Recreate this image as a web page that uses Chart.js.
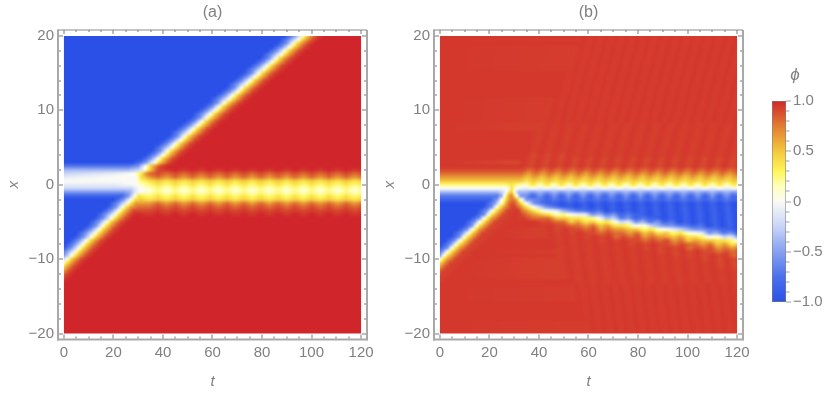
<!DOCTYPE html>
<html><head><meta charset="utf-8">
<style>html,body{margin:0;padding:0;background:#fff;width:830px;height:394px;overflow:hidden}canvas{position:absolute;top:0}</style>
<script src="https://cdn.jsdelivr.net/npm/chart.js@4"></script>
</head><body>
<canvas id="ca" width="375" height="394" style="left:0"></canvas>
<canvas id="cb" width="375" height="394" style="left:376px"></canvas>
<canvas id="cc" width="70" height="394" style="left:760px"></canvas>
<script>
const tTicks=[0,20,40,60,80,100,120];
const xTicks=[-20,-10,0,10,20];
const barTicks=[-1,-0.5,0,0.5,1];
// phi values by letter
const levels={a:-1,b:-.85,c:-.7,d:-.55,e:-.4,f:-.25,g:-.1,h:0,i:.12,j:.25,k:.38,l:.5,m:.65,n:.8,o:.9,r:.925,s:.935,p:.95,q:1};
const colorStops=[[-1,43,80,232],[-.75,75,112,236],[-.5,135,160,240],[-.25,200,212,248],[0,250,250,245],[.15,255,255,190],[.3,255,245,90],[.5,243,200,62],[.75,226,125,50],[1,208,38,43]];
const beadA=[34.5,41.5,48.5,55.5,62.5,69.3,76,83,90,96.7,103.5,110.5,117.5,124.5];
const rippleB=[11.4,17.2,23,28.8,34.6,40.4,46.2,52,57.8,63.6,69.4,75.2,81,86.8,92.6,98.4,104.2,110,115.8,121.6,127.4,133.2,139,144.8];
const farB=[36,40.5,44.8,49,53.3,57.6,62,66.4,70.8,75.2,79.6,84,88.4,92.8,97.2,101.6,106,110.4,114.8,119.2,123.6,128,132.4,136.8,141.2,145.6];
// each row: x = 20, 19.5 ... -20 ; knots "letter t" | ripple shift | zones "from crest+trough"
const rowsA=[
"a89 d93 h96 k97.5 m99.5 o102 q105","a87 d91 h94.5 k96 m98 o100.5 q103.5","a86 d90 h92.5 k94 m96 o98.5 q101.5","a84 d88 h91 k92.5 m94.5 o97 q100","a82 d86 h89 k90.5 m92.5 o95 q98",
"a80 d84 h87.5 k89 m91 o93.5 q96.5","a79 d83 h85.5 k87 m89 o91.5 q94.5","a77 d81 h84 k85.5 m87.5 o90 q93","a75 d79 h82 k83.5 m85.5 o88 q91","a73 d77 h80.5 k82 m84 o86.5 q89.5",
"a72 d76 h78.5 k80 m82 o84.5 q87.5","a70 d74 h77 k78.5 m80.5 o83 q86","a68 d72 h75 k76.5 m78.5 o81 q84","a66 d70 h73.5 k75 m77 o79.5 q82.5","a65 d69 h71.5 k73 m75 o77.5 q80.5",
"a63 d67 h70 k71.5 m73.5 o76 q79","a61 d65 h68 k69.5 m71.5 o74 q77","a59 d63 h66.5 k68 m70 o72.5 q75.5","a58 d62 h64.5 k66 m68 o70.5 q73.5","a56 d60 h62.5 k64 m66 o68.5 q71.5",
"a54 d58 h61 k62.5 m64.5 o67 q70","a52 d56 h59 k60.5 m62.5 o65 q68","a51 d55 h57.5 k59 m61 o63.5 q66.5","a49 d53 h55.5 k57 m59 o61.5 q64.5","a47 d51 h54 k55.5 m57.5 o60 q63",
"a45 d49 h52 k53.5 m55.5 o58 q61","a43 d47 h50.5 k52 m54 o56.5 q59.5","a42 d46 h48.5 k50 m52 o54.5 q57.5","a40 d44 h47 k48.5 m50.5 o53 q56","a38 d42 h45 k46.5 m48.5 o51 q54",
"a36 d40 h43.5 k45 m47 o49.5 q52.5","a35 d39 h41.5 k43 m45 o47.5 q50.5","a33 d37 h40 k41.5 m43.5 o46 q49","a31 d35 h38 k39.5 m41.5 o44 q47",
"a0 a28 d33 h36.5 k38 m40 o42.5 q45.5","c0 c26 d30 h33 k34.5 m36.5 o39 q42",
"e0 e26 f30 h32.5 k34 m36 o38|0|40 pq","f0 g20 h28 k31.5 m33|0|33 no","g0 h20 h29 k31|0|33 mn","h0 h29 j31|0|33 kl","g0 g20 h29 i31|0|33 jk",
"f0 f27 h30.5|0|32 ij","d0 d24 e27 g29 h30.5|0|32 ij","b0 b23 d26 h28.5 k30|0|32 jk","a20 d24 h27 k28.5 l31|0|33 kl","a18 d22 h25.5 k27 m29|0|33 mn",
"a17 d21 h23.5 k25 m27 n30|0|33 no","a15 d19 h22 k23.5 m25.5 o28|0|33 op","a13 d17 h20.5 k22 m24 o26.5 q29.5|0|33 pq",
"a12 d16 h19 k20.5 m22.5 o25 q28","a10 d14 h17 k18.5 m20.5 o23 q26","a9 d13 h15.5 k17 m19 o21.5 q24.5","a7 d11 h14 k15.5 m17.5 o20 q23","a5 d9 h12.5 k14 m16 o18.5 q21.5",
"a4 d8 h11 k12.5 m14.5 o17 q20","a2 d6 h9 k10.5 m12.5 o15 q18","a.5 d4.5 h7.5 k9 m11 o13.5 q16.5","a-1 d3 h6 k7.5 m9.5 o12 q15","a-3 d1 h4.5 k6 m8 o10.5 q13.5",
"a-4 d0 h3 k4.5 m6.5 o9 q12","a-6 d-2 h1 k2.5 m4.5 o7 q10","a-7 d-3 h-.5 k1 m3 o5.5 q8.5","a-9 d-5 h-2 k-.5 m1.5 o4 q7","h-4 k-2 m0 o2.5 q5.5",
"k-4 m-1.5 o1 q4","m-3 o-.5 q2.5","m-5 o-2 q1","o-4 q-1",
"q0","q0","q0","q0","q0","q0","q0","q0","q0","q0","q0","q0","q0"];
const rowsB=[
"p0|16|57 sp","p0|15.6|56 sp","p0|15.2|56 sp","p0|14.8|55 sp","p0|14.4|54 sp","p0|14|53.5 sp","p0|13.6|53 sp","p0|13.2|52 sp","p0|12.8|51.5 sp","p0|12.4|51 sp",
"p0|12|50 sp","p0|11.6|49.5 sp","p0|11.2|48.5 sp","p0|10.8|48 sp","p0|10.4|47 sp","p0|10|46.5 sp","p0|9.6|46 sp","p0|9.2|45 sp","p0|8.8|44.5 sp","p0|8.4|43.5 sp",
"p0|8|43 sp","p0|7.6|42 sp","p0|7.2|41 sp","p0|6.8|40 sp","p0|6.4|39 rp","p0|6|38 rp","p0|5.6|37 rp","p0|5.2|36 rp","p0|4.8|35 rp","p0|4.4|35 rp",
"p0|4|34 rp","p0|3.6|33 rp","p0|3.2|32.5 op 50 rp","p0|2.8|32 op","p0|2.4|31 op",
"p0|2|31 op","o0 o27 o31|1.6|32 no","n0 n27 n31|1.2|32 mn","m0 m27 m31|.8|32 lm","l0 l27 l31|.4|32 kl",
"j0 j26 k29 j31|0|33 ik",
"h0 h27 i28 k28.7 k29.3 i30.2 h31|0|33 gh",
"e0 e23 f25 h27 k27.8 l28.7 k29.6 h30.3 e31.5|0|33 ed",
"c0 c23 e25 h26 k27 n28.7 k30.2 h31 d32.5|0|34 db",
"b0 b20 d23 h25 k26.5 m27.7 n29.5 m30.7 k31.7 h33 d35|0|38 cb",
"a18 d22 h24.3 k25.8 m27 n28 o29.5 n30.6 m31.7 k33 h35 d38|.2|39 cb 45 ba",
"a17 d21 h22.7 k24.2 m26 o28.5 r30 n31.7 m33 k35 h38 d43|.4|44 cb 52 ba",
"a15 d19 h21 k22.6 m24.5 o27 r29 p31 r32 n33 m35 k38 h43|.6|44 gf 48 fe 52 dc 58 cb 66 ba",
"a14 d18 h19.5 k21 m23 o25.5 r27.5 p30 r32.5 n35 m38|.8|40 lm 43 jk 47 ij 52 hg 57 gf 61 ed 66 dc 72 cb 80 ba",
"a12 d16 h17.8 k19.3 m21 o24 r26 p30 r34 n38|.9|39 no 42 mn 46 lm 50 kl 55 jk 59 ij 63 hg 67 fe 72 dc 78 cb 86 ba",
"a10 d14 h16 k17.7 m19.5 o22 r24 p28|1|36 rp 39 op 43 no 48 mn 53 lm 58 kl 63 jk 68 ih 72 gf 77 ed 83 dc 88 cb 96 ba",
"a9 d13 h14.5 k16 m18 o20.5 r22.5 p27|1.2|38 rp 42 op 48 no 54 mn 62 lm 68 kl 72 jk 78 ih 83 gf 88 ed 93 dc 98 cb 107 ba",
"a7 d11 h13 k14.4 m16 o19 r21 p25|1.4|41 rp 46 op 56 no 64 mn 71 lm 77 kl 82 jk 88 ih 93 gf 98 ed 103 dc 109 cb 116 ba",
"a5 d9 h11.3 k12.8 m14.5 o17 r19 p23|1.6|41 rp 50 op 62 no 72 mn 80 lm 88 kl 93 jk 98 ih 103 gf 108 ed 114 dc 120 cb",
"a4 d8 h9.6 k11.1 m13 o15.5 r17.5 p22|1.8|42 rp 56 op 70 no 82 mn 90 lm 98 kl 103 jk 108 ih 114 gf 120 ed",
"a2 d6 h8 k9.5 m11.5 o14 r16 p20|2|43 rp 64 op 80 no 92 mn 100 lm 108 kl 113 jk 118 ih",
"a.5 d4.5 h6.3 k7.8 m10 o12.5 r14.5 p19|2.2|44 rp 72 op 90 no 102 mn 110 lm 118 kl",
"a-1 d3 h4.7 k6.2 m8 o11 r13 p17|2.4|45 rp 80 op 98 no 112 mn",
"a-3 d1 h3 k4.6 m6.5 o9 r11 p15|2.6|46 rp 88 op 108 no",
"a-4 d0 h1.4 k2.9 m5 o7.5 r9.5 p14|2.8|46 rp 95 op 118 no",
"a-6 d-2 h-.2 k1.3 m3 o6 r8 p12|3|47 rp 102 op",
"a-8 d-4 h-1.8 k-.3 m1.5 o4 r6 p10|3.2|47 rp 108 op",
"h-3.5 k-2 m0 o2.5 r4.5 p8|3.4|48 rp 112 op",
"k-3.5 m-1.5 o1 r3 p7|3.6|49 rp","m-3 o-.5 r1.5 p5|3.8|49 rp","o-2 r0 p4|4|50 rp","r-1.5 p2|4.2|51 rp",
"p0|4.4|51 sp","p0|4.6|52 sp","p0|4.8|53 sp","p0|5|53 sp","p0|5.2|54 sp","p0|5.4|55 sp","p0|5.6|55 sp","p0|5.8|56 sp","p0|6|57 sp","p0|6.2|57 sp","p0|6.4|58 sp","p0|6.6|59 sp","p0|6.8|59 sp","p0|7|60 sp"];

function phiColor(v){
  for(let i=1;i<colorStops.length;i++){
    const a=colorStops[i-1],b=colorStops[i];
    if(v<=b[0]){const f=Math.max(0,(v-a[0])/(b[0]-a[0]));
      return [a[1]+f*(b[1]-a[1]),a[2]+f*(b[2]-a[2]),a[3]+f*(b[3]-a[3])];}
  }
  return colorStops[colorStops.length-1].slice(1);
}
function rowKnots(row,crestsIn){
  const [k,s,z]=row.split('|');const out=[];
  const crests=(z&&z.endsWith(' sp'))?farB:crestsIn;
  for(const m of k.matchAll(/([a-z])(-?[\d.]+)/g))out.push([+m[2],levels[m[1]]]);
  if(z){
    const shift=+s,p=z.trim().split(' ');const zones=[];
    for(let i=0;i<p.length;i+=2)zones.push([+p[i],p[i+1]]);
    const find=t=>{let r=null;for(const q of zones)if(t>=q[0])r=q[1];return r;};
    for(let i=0;i<crests.length-1;i++){
      const tc=crests[i]+shift,tm=(crests[i]+crests[i+1])/2+shift;
      const a=find(tc),b=find(tm);
      if(a)out.push([tc,levels[a[0]]]);
      if(b)out.push([tm,levels[b[1]]]);
    }
  }
  return out.sort((a,b)=>a[0]-b[0]);
}
function phiAt(kn,t){
  if(t<=kn[0][0])return kn[0][1];
  for(let i=1;i<kn.length;i++)if(t<=kn[i][0]){
    const f=(t-kn[i-1][0])/(kn[i][0]-kn[i-1][0]||1);return kn[i-1][1]+f*(kn[i][1]-kn[i-1][1]);}
  return kn[kn.length-1][1];
}
function cells(rows,crests){
  const out=[];
  rows.forEach((r,j)=>{const kn=rowKnots(r,crests);
    for(let t=0;t<=120;t++)out.push({x:t,y:20-j*.5,v:phiAt(kn,t)});});
  return out;
}
const GRAY='#808080';
const fontT={family:'"Liberation Sans",Arial,sans-serif',size:15};
const noPad=s=>{s.paddingLeft=0;s.paddingRight=0;s.paddingTop=0;s.paddingBottom=0;};
const heat={id:'heat',beforeDatasetsDraw(c){
  const d=c.data.datasets[0].data,sx=c.scales.x,sy=c.scales.y,ctx=c.ctx;
  const w=121,h=81,off=document.createElement('canvas');off.width=w;off.height=h;
  const o=off.getContext('2d'),im=o.createImageData(w,h);
  d.forEach(p=>{const i=p.x,j=Math.round((20-p.y)*2),q=(j*w+i)*4,col=phiColor(p.v);
    im.data[q]=col[0];im.data[q+1]=col[1];im.data[q+2]=col[2];im.data[q+3]=255;});
  o.putImageData(im,0,0);
  const x0=sx.getPixelForValue(0),x1=sx.getPixelForValue(120),y0=sy.getPixelForValue(20),y1=sy.getPixelForValue(-20);
  ctx.save();ctx.beginPath();ctx.rect(x0,y0,x1-x0,y1-y0);ctx.clip();
  ctx.imageSmoothingEnabled=true;ctx.imageSmoothingQuality='high';
  const ax=sx.getPixelForValue(-.5),bx=sx.getPixelForValue(120.5),ay=sy.getPixelForValue(20.25),by=sy.getPixelForValue(-20.25);
  ctx.drawImage(off,ax,ay,bx-ax,by-ay);
  ctx.restore();
}};
const frame={id:'frame',afterDraw(c){
  const a=c.chartArea,ctx=c.ctx,sx=c.scales.x,sy=c.scales.y;
  ctx.save();
  ctx.fillStyle='#a8a8a8';
  ctx.fillRect(a.left-1,a.top,2,a.bottom-a.top+1);
  ctx.fillRect(a.right-1,a.top,2,a.bottom-a.top+1);
  ctx.fillRect(a.left-1,a.bottom-1,a.right-a.left+1,2);
  ctx.fillStyle='#8c8c8c';ctx.fillRect(a.left-1,a.top-.5,a.right-a.left+1,1);
  ctx.fillStyle='#7a7a7a';
  for(let t=0;t<=120;t+=5){const p=Math.round(sx.getPixelForValue(t)),l=t%20===0?4:2;
    ctx.fillRect(p-.5,a.top,1,l);ctx.fillRect(p-.5,a.bottom-l-1,1,l);}
  for(let x=-20;x<=20;x+=2){const p=Math.round(sy.getPixelForValue(x)),l=x%10===0?4:2;
    ctx.fillRect(a.left+1,p-.5,l,1);ctx.fillRect(a.right-l-1,p-.5,l,1);}
  ctx.restore();
}};
function panel(id,title,rows,crests){
  new Chart(document.getElementById(id),{type:'scatter',plugins:[heat,frame],
    data:{datasets:[{data:cells(rows,crests),pointRadius:0,showLine:false}]},
    options:{responsive:false,animation:false,events:[],
      layout:{autoPadding:false,padding:{left:0,right:8,top:0,bottom:0}},
      plugins:{legend:{display:false},tooltip:{enabled:false},
        title:{display:true,text:title,fullSize:false,color:GRAY,font:{...fontT,size:16,weight:'normal',lineHeight:1.2},padding:{top:3,bottom:7.8}}},
      scales:{
        x:{type:'linear',min:-2.4,max:122.4,afterBuildTicks(s){s.ticks=tTicks.map(v=>({value:v}));},
          afterFit(s){s.height=54.5;noPad(s);},
          grid:{display:false,drawTicks:false},border:{display:false},
          ticks:{color:GRAY,font:fontT,padding:4,maxRotation:0,autoSkip:false},
          title:{display:true,text:'t',color:GRAY,font:{...fontT,style:'italic'},padding:{top:0,bottom:3}}},
        y:{type:'linear',min:-20.8,max:20.8,afterBuildTicks(s){s.ticks=xTicks.map(v=>({value:v}));},
          afterFit(s){s.width=58;noPad(s);},
          grid:{display:false,drawTicks:false},border:{display:false},
          ticks:{color:GRAY,font:fontT,padding:4,autoSkip:false,callback:v=>String(v).replace('-','\u2212')},
          title:{display:true,text:'x',color:GRAY,font:{...fontT,style:'italic'},padding:{top:5,bottom:5}}}
      }}});
}
panel('ca','(a)',rowsA,beadA);
panel('cb','(b)',rowsB,rippleB);
const bar={id:'bar',afterDraw(c){
  const a=c.chartArea,ctx=c.ctx,sy=c.scales.y;
  const g=ctx.createLinearGradient(0,sy.getPixelForValue(-1),0,sy.getPixelForValue(1));
  colorStops.forEach(s=>g.addColorStop((s[0]+1)/2,`rgb(${s[1]},${s[2]},${s[3]})`));
  ctx.save();ctx.fillStyle=g;ctx.fillRect(a.left,a.top,a.right-a.left,a.bottom-a.top);
  ctx.strokeStyle='rgba(130,130,130,.55)';ctx.lineWidth=1;ctx.strokeRect(a.left+.5,a.top+.5,a.right-a.left-1,a.bottom-a.top-1);
  ctx.fillStyle='#a0a0a0';
  for(let i=-10;i<=10;i++){const p=Math.round(sy.getPixelForValue(i/10)),l=i%5===0?5:3.5;ctx.fillRect(a.right,p-.5,l,1);}
  ctx.fillStyle=GRAY;ctx.font='italic 17px "Liberation Sans",Arial,sans-serif';ctx.textAlign='center';ctx.textBaseline='middle';
  ctx.fillText('\u03d5',35,75);
  ctx.restore();
}};
new Chart(document.getElementById('cc'),{type:'scatter',plugins:[bar],
  data:{datasets:[{data:barTicks.map(v=>({x:0,y:v})),pointRadius:0}]},
  options:{responsive:false,animation:false,events:[],
    layout:{autoPadding:false,padding:{left:12,right:0,top:101,bottom:92}},
    plugins:{legend:{display:false},tooltip:{enabled:false},title:{display:false}},
    scales:{
      x:{display:false,min:0,max:1},
      y:{type:'linear',position:'right',min:-1,max:1,afterBuildTicks(s){s.ticks=barTicks.map(v=>({value:v}));},
        afterFit(s){s.width=44;noPad(s);},grid:{display:false,drawTicks:false},border:{display:false},
        ticks:{color:GRAY,font:fontT,padding:7,autoSkip:false,
          callback:v=>v===0?'0':v.toFixed(1).replace('-','\u2212')}}
    }}});
</script>
</body></html>
